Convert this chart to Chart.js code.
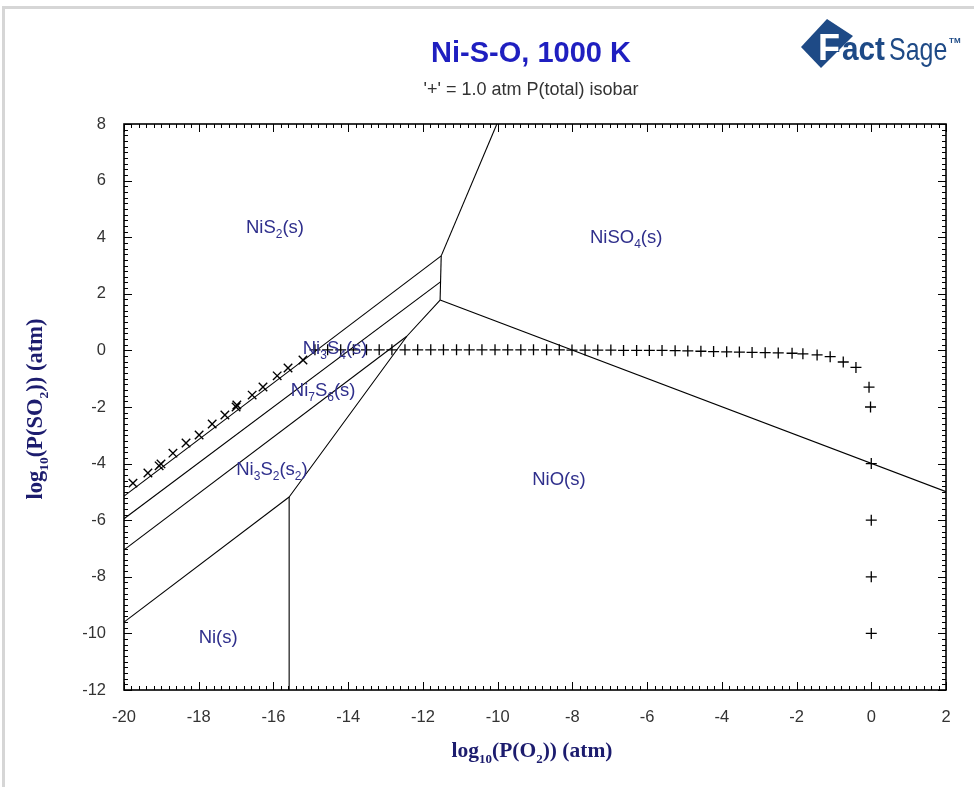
<!DOCTYPE html>
<html>
<head>
<meta charset="utf-8">
<script src="https://cdn.jsdelivr.net/npm/chart.js@4.4.0/dist/chart.umd.min.js"></script>
<style>
html, body { margin: 0; padding: 0; background: #fff; }
#wrap { position: relative; width: 974px; height: 787px; overflow: hidden; }
#frame { position: absolute; left: 2px; top: 6px; width: 990px; height: 800px;
         border-top: 3px solid #d6d6d6; border-left: 3px solid #d6d6d6; }
canvas { position: absolute; left: 0; top: 0; }
</style>
</head>
<body>
<div id="wrap"><div id="frame"></div><canvas id="myChart" width="974" height="787"></canvas></div>
<script>
/* globals Chart:false */

// axis ranges and tick labels
var xTicks = [-20, -18, -16, -14, -12, -10, -8, -6, -4, -2, 0, 2];
var yTicks = [-12, -10, -8, -6, -4, -2, 0, 2, 4, 6, 8];

// phase boundaries, [log P(O2), log P(SO2)]
var nis2Ni3s4 = [[-20, -5.15], [-11.51, 3.34]];
var ni3s4Ni7s6 = [[-20, -5.95], [-11.53, 2.42]];
var ni7s6Ni3s2 = [[-20, -7.05], [-12.43, 0.5]];
var ni3s2Ni = [[-20, -9.6], [-15.58, -5.18]];
var niNiO = [[-15.58, -5.18], [-15.58, -12]];
var sulfideNiO = [[-15.58, -5.18], [-12.43, 0.5], [-11.54, 1.78]];
var sulfideNiSO4 = [[-11.54, 1.78], [-11.51, 3.34]];
var nis2NiSO4 = [[-11.51, 3.34], [-10.02, 8]];
var nioNiSO4 = [[-11.54, 1.78], [2, -4.99]];

// 1.0 atm total pressure isobar
var isoDiagX = [-19.76, -19.36, -19.06, -19.01, -18.69, -18.34, -17.99, -17.64, -17.30, -17.00, -16.98, -16.57, -16.28, -15.90, -15.61, -15.21];
var isoDiagY = [-4.69, -4.33, -4.08, -4.01, -3.63, -3.27, -2.99, -2.60, -2.28, -2.00, -1.93, -1.58, -1.29, -0.90, -0.62, -0.34];
var isoX = [-14.89, -14.55, -14.20, -13.86, -13.51, -13.17, -12.83, -12.48, -12.14, -11.79, -11.45, -11.10,
            -10.76, -10.42, -10.07, -9.73, -9.38, -9.04, -8.69, -8.35, -8.01, -7.66, -7.32, -6.97,
            -6.63, -6.28, -5.94, -5.60, -5.25, -4.91, -4.56, -4.22, -3.87, -3.53, -3.19, -2.84,
            -2.49, -2.12, -1.83, -1.45, -1.10, -0.75, -0.41, -0.06, -0.02, 0, 0, 0, 0];
var isoY = [0.02, 0.02, 0.02, 0.02, 0.02, 0.02, 0.02, 0.02, 0.02, 0.02, 0.02, 0.02,
            0.02, 0.02, 0.02, 0.02, 0.02, 0.02, 0.02, 0.02, 0.01, 0.01, 0.01, 0.01,
            0.0, 0.0, 0.0, 0.0, -0.01, -0.02, -0.03, -0.04, -0.05, -0.06, -0.07, -0.08,
            -0.09, -0.10, -0.12, -0.16, -0.22, -0.41, -0.60, -1.30, -2.00, -4.00, -6.00, -8.00, -10.00];

// phase field labels ("_" marks a subscript)
var fieldNames = ['NiS_2(s)', 'NiSO_4(s)', 'Ni_3S_4(s)', 'Ni_7S_6(s)', 'Ni_3S_2(s_2)', 'NiO(s)', 'Ni(s)'];
var fieldX = [-15.96, -6.56, -14.35, -14.67, -16.04, -8.36, -17.48];
var fieldY = [4.36, 4.0, 0.08, -1.4, -4.19, -4.54, -10.13];

function pts(arr) {
    return arr.map(function (p) { return { x: p[0], y: p[1] }; });
}

function boundary(arr) {
    return {
        data: pts(arr),
        showLine: true,
        borderColor: '#000',
        borderWidth: 1.1,
        pointRadius: 0,
        fill: false
    };
}

// draws text with "_" subscripts, centred on x
function drawRich(ctx, str, x, y, size, subSize, family, weight, color) {
    var segs = [];
    var i = 0;
    while (i < str.length) {
        if (str[i] === '_') {
            var j = i + 1;
            while (j < str.length && /\d/.test(str[j])) j++;
            if (j === i + 1) j = i + 2;
            segs.push({ t: str.slice(i + 1, j), sub: true });
            i = j;
        } else {
            var k = i;
            while (k < str.length && str[k] !== '_') k++;
            segs.push({ t: str.slice(i, k), sub: false });
            i = k;
        }
    }
    var total = 0;
    segs.forEach(function (s) {
        ctx.font = weight + ' ' + (s.sub ? subSize : size) + 'px ' + family;
        s.w = ctx.measureText(s.t).width;
        total += s.w;
    });
    var cx = x - total / 2;
    ctx.fillStyle = color;
    ctx.textAlign = 'left';
    ctx.textBaseline = 'alphabetic';
    segs.forEach(function (s) {
        ctx.font = weight + ' ' + (s.sub ? subSize : size) + 'px ' + family;
        ctx.fillText(s.t, cx, s.sub ? y + size * 0.28 : y);
        cx += s.w;
    });
}

var decorPlugin = {
    id: 'decor',
    afterDraw: function (chart) {
        var ctx = chart.ctx;
        var a = chart.chartArea;
        var sx = chart.scales.x;
        var sy = chart.scales.y;
        ctx.save();

        // frame
        ctx.strokeStyle = '#000';
        ctx.lineWidth = 1.6;
        ctx.strokeRect(a.left, a.top, a.right - a.left, a.bottom - a.top);

        // inward ticks on all four sides
        ctx.lineWidth = 1;
        ctx.beginPath();
        var i, v, p, len;
        for (i = 0; i <= 110; i++) {
            v = -20 + i * 0.2;
            p = Math.round(sx.getPixelForValue(v)) + 0.5;
            len = (i % 10 === 0) ? 8 : 4;
            ctx.moveTo(p, a.bottom); ctx.lineTo(p, a.bottom - len);
            ctx.moveTo(p, a.top); ctx.lineTo(p, a.top + len);
        }
        for (i = 0; i <= 100; i++) {
            v = -12 + i * 0.2;
            p = Math.round(sy.getPixelForValue(v)) + 0.5;
            len = (i % 10 === 0) ? 8 : 4;
            ctx.moveTo(a.left, p); ctx.lineTo(a.left + len, p);
            ctx.moveTo(a.right, p); ctx.lineTo(a.right - len, p);
        }
        ctx.stroke();

        // field labels
        for (i = 0; i < fieldNames.length; i++) {
            drawRich(ctx, fieldNames[i], sx.getPixelForValue(fieldX[i]), sy.getPixelForValue(fieldY[i]) + 6,
                18.5, 12, 'Arial, "Liberation Sans", sans-serif', 'normal', '#2f2f8c');
        }

        // titles
        ctx.textAlign = 'center';
        ctx.textBaseline = 'alphabetic';
        ctx.fillStyle = '#1f1fc0';
        ctx.font = 'bold 29px Arial, "Liberation Sans", sans-serif';
        ctx.fillText('Ni-S-O, 1000 K', 531, 62);
        ctx.fillStyle = '#333';
        ctx.font = '18px Arial, "Liberation Sans", sans-serif';
        ctx.fillText("'+' = 1.0 atm P(total) isobar", 531, 95);

        // axis titles
        var serif = '"Times New Roman", "Liberation Serif", serif';
        drawRich(ctx, 'log_10(P(O_2)) (atm)', 532, 757, 21.5, 13, serif, 'bold', '#1c1c6e');
        ctx.save();
        ctx.translate(42, 409);
        ctx.rotate(-Math.PI / 2);
        drawRich(ctx, 'log_10(P(SO_2)) (atm)', 0, 0, 22.5, 13.5, serif, 'bold', '#1c1c6e');
        ctx.restore();

        // FactSage logo
        var blue = '#1e4a86';
        ctx.fillStyle = blue;
        ctx.beginPath();
        ctx.moveTo(801, 47); ctx.lineTo(827, 19); ctx.lineTo(853, 36); ctx.lineTo(821, 68);
        ctx.closePath();
        ctx.fill();
        ctx.textAlign = 'left';
        ctx.font = 'bold 36px Arial, "Liberation Sans", sans-serif';
        ctx.lineWidth = 2;
        ctx.strokeStyle = blue;
        ctx.strokeText('F', 818, 60);
        ctx.fillStyle = '#fff';
        ctx.fillText('F', 818, 60);
        ctx.fillStyle = blue;
        ctx.font = 'bold 33px Arial, "Liberation Sans", sans-serif';
        ctx.save();
        ctx.translate(842, 60);
        ctx.scale(0.9, 1);
        ctx.fillText('act', 0, 0);
        ctx.restore();
        ctx.save();
        ctx.translate(889, 60);
        ctx.scale(0.78, 1);
        ctx.font = '32px Arial, "Liberation Sans", sans-serif';
        ctx.fillText('Sage', 0, 0);
        ctx.restore();
        ctx.font = 'bold 8px Arial, "Liberation Sans", sans-serif';
        ctx.fillText('TM', 949, 43);

        ctx.restore();
    }
};

var ctx = document.getElementById('myChart');

var datasets = [
    boundary(nis2Ni3s4),
    boundary(ni3s4Ni7s6),
    boundary(ni7s6Ni3s2),
    boundary(ni3s2Ni),
    boundary(niNiO),
    boundary(sulfideNiO),
    boundary(sulfideNiSO4),
    boundary(nis2NiSO4),
    boundary(nioNiSO4),
    {
        data: isoDiagX.map(function (x, i) { return { x: x, y: isoDiagY[i] }; }),
        showLine: false,
        pointStyle: 'crossRot',
        pointRadius: 6,
        borderColor: '#000',
        borderWidth: 1.4
    },
    {
        data: isoX.map(function (x, i) { return { x: x, y: isoY[i] }; }),
        showLine: false,
        pointStyle: 'cross',
        pointRadius: 5.5,
        borderColor: '#000',
        borderWidth: 1.3
    }
];

var myChart = new Chart(ctx, {
    type: 'scatter',
    data: { datasets: datasets },
    options: {
        responsive: false,
        animation: false,
        devicePixelRatio: 1,
        layout: { padding: { top: 124, right: 28, left: 0, bottom: 0 } },
        plugins: { legend: { display: false }, tooltip: { enabled: false } },
        elements: { line: { tension: 0 } },
        scales: {
            x: {
                type: 'linear', min: -20, max: 2,
                afterFit: function (scale) { scale.height = 97; },
                afterBuildTicks: function (scale) { scale.ticks = xTicks.map(function (v) { return { value: v }; }); },
                grid: { display: false },
                border: { display: false },
                ticks: { color: '#333', padding: 10, maxRotation: 0,
                         font: { size: 16.5, family: 'Arial, "Liberation Sans", sans-serif' } }
            },
            y: {
                type: 'linear', min: -12, max: 8,
                afterFit: function (scale) { scale.width = 124; },
                afterBuildTicks: function (scale) { scale.ticks = yTicks.map(function (v) { return { value: v }; }); },
                grid: { display: false },
                border: { display: false },
                ticks: { color: '#333', padding: 10,
                         font: { size: 16.5, family: 'Arial, "Liberation Sans", sans-serif' } }
            }
        }
    },
    plugins: [decorPlugin]
});
</script>
</body>
</html>
